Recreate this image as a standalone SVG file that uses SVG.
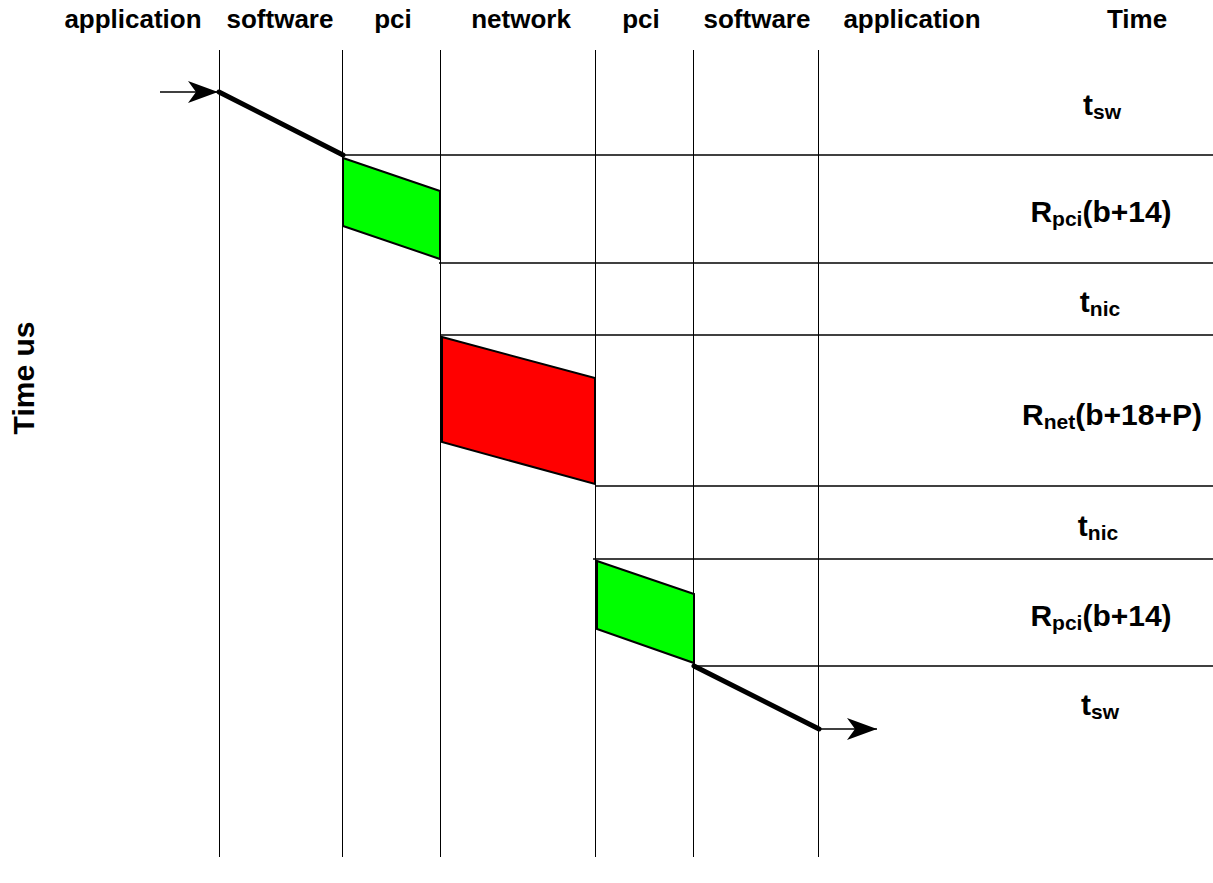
<svg xmlns="http://www.w3.org/2000/svg" width="1213" height="883" viewBox="0 0 1213 883">
<style>
.hdr{font-family:"Liberation Sans",Arial,sans-serif;font-weight:bold;font-size:26px;text-anchor:middle;fill:#000}
.lbl{font-family:"Liberation Sans",Arial,sans-serif;font-weight:bold;font-size:30px;text-anchor:middle;fill:#000}
.sub{font-size:21px}
.vline{stroke:#000;stroke-width:1;fill:none}
.hline{stroke:#000;stroke-width:1.5;fill:none}
.box{stroke:#000;stroke-width:2;stroke-linejoin:miter}
.thick{stroke:#000;stroke-width:5;stroke-linecap:round;fill:none}
.arr{stroke:#000;stroke-width:1.5;fill:none}
</style>
<defs>
<marker id="ah" markerUnits="userSpaceOnUse" markerWidth="32" markerHeight="24" refX="30" refY="12" orient="auto">
<path d="M0,1 L30,12 L0,23 L8,12 Z" fill="#000"/>
</marker>
</defs>
<rect width="1213" height="883" fill="#fff"/>
<g id="grid">
<line class="vline" x1="219.5" y1="50" x2="219.5" y2="857"/>
<line class="vline" x1="342.5" y1="50" x2="342.5" y2="857"/>
<line class="vline" x1="440.5" y1="50" x2="440.5" y2="857"/>
<line class="vline" x1="595.5" y1="50" x2="595.5" y2="857"/>
<line class="vline" x1="693.5" y1="50" x2="693.5" y2="857"/>
<line class="vline" x1="818.5" y1="50" x2="818.5" y2="857"/>
<line class="hline" x1="343" y1="155" x2="1213" y2="155"/>
<line class="hline" x1="439" y1="263" x2="1213" y2="263"/>
<line class="hline" x1="441" y1="335" x2="1213" y2="335"/>
<line class="hline" x1="596" y1="486" x2="1213" y2="486"/>
<line class="hline" x1="593" y1="559" x2="1213" y2="559"/>
<line class="hline" x1="692" y1="666" x2="1213" y2="666"/>
</g>
<g id="header">
<text class="hdr" x="133" y="28">application</text>
<text class="hdr" x="280" y="28">software</text>
<text class="hdr" x="393" y="28">pci</text>
<text class="hdr" x="521" y="28">network</text>
<text class="hdr" x="641" y="28">pci</text>
<text class="hdr" x="757" y="28">software</text>
<text class="hdr" x="912" y="28">application</text>
<text class="hdr" x="1137" y="28">Time</text>
</g>
<g id="axis-label">
<text class="lbl" transform="translate(34,378) rotate(-90)">Time us</text>
</g>
<g id="pci-send">
<polygon class="box" points="343,158 440,191 440,259 343,226" fill="#00ff00"/>
</g>
<g id="network">
<polygon class="box" points="442,337 595,378 595,484 442,442" fill="#ff0000"/>
</g>
<g id="pci-recv">
<polygon class="box" points="597,561 694,594 694,663 597,629" fill="#00ff00"/>
</g>
<g id="connectors">
<line class="arr" x1="160" y1="92" x2="218" y2="92" marker-end="url(#ah)"/>
<line class="thick" x1="219" y1="92" x2="343" y2="155"/>
<line class="thick" x1="694" y1="666" x2="819" y2="729"/>
<line class="arr" x1="819" y1="729" x2="877" y2="729" marker-end="url(#ah)"/>
</g>
<g id="labels">
<text class="lbl" x="1102" y="115">t<tspan class="sub" dy="4">sw</tspan></text>
<text class="lbl" x="1101" y="222">R<tspan class="sub" dy="4">pci</tspan><tspan dy="-4">(b+14)</tspan></text>
<text class="lbl" x="1100" y="312">t<tspan class="sub" dy="4">nic</tspan></text>
<text class="lbl" x="1112" y="425">R<tspan class="sub" dy="4">net</tspan><tspan dy="-4">(b+18+P)</tspan></text>
<text class="lbl" x="1098" y="536">t<tspan class="sub" dy="4">nic</tspan></text>
<text class="lbl" x="1101" y="626">R<tspan class="sub" dy="4">pci</tspan><tspan dy="-4">(b+14)</tspan></text>
<text class="lbl" x="1100" y="715">t<tspan class="sub" dy="4">sw</tspan></text>
</g>
</svg>
